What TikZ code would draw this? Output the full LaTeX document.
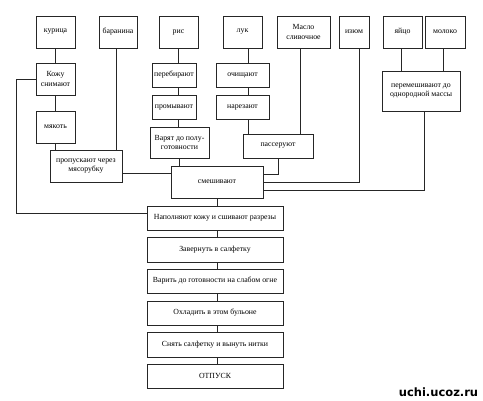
\documentclass[tikz,border=0pt]{standalone}
\usepackage{fontspec}
\setmainfont{Liberation Serif}
\newfontfamily\wmfont{DejaVu Sans}
\begin{document}
\begin{tikzpicture}[x=1pt,y=-1pt,
  box/.style={draw=black!85, line width=0.8pt, fill=white, inner sep=1pt, align=center,
    font=\fontsize{7.8}{9.5}\selectfont},
  conn/.style={draw=black!85, line width=0.8pt}]
\useasboundingbox (0,0) rectangle (483,401);
% top row
\node[box, minimum width=39pt, minimum height=32pt] (kur) at (55.5,32) {курица};
\node[box, minimum width=38pt, minimum height=32pt] (bar) at (118,32) {баранина};
\node[box, minimum width=39pt, minimum height=32pt] (ris) at (178.5,32) {рис};
\node[box, minimum width=39pt, minimum height=32pt] (luk) at (242.5,32) {лук};
\node[box, minimum width=53pt, minimum height=32pt] (maslo) at (303.5,32) {Масло\\сливочное};
\node[box, minimum width=30pt, minimum height=32pt] (izum) at (354,32) {изюм};
\node[box, minimum width=39pt, minimum height=32pt] (yajco) at (402.5,32) {яйцо};
\node[box, minimum width=40pt, minimum height=32pt] (moloko) at (445,32) {молоко};
% left branch
\node[box, minimum width=39pt, minimum height=32pt] (kozha) at (55.5,79) {Кожу\\снимают};
\node[box, minimum width=39pt, minimum height=32pt] (myak) at (55.5,127) {мякоть};
\node[box, minimum width=72pt, minimum height=32pt] (prop) at (86,166) {пропускают через\\мясорубку};
% rice branch
\node[box, minimum width=44pt, minimum height=24pt] (pereb) at (174,75) {перебирают};
\node[box, minimum width=44pt, minimum height=24pt] (promyv) at (174,107) {промывают};
\node[box, minimum width=59pt, minimum height=31pt] (varyat) at (179.5,142.5) {Варят до полу-\\готовности};
% onion branch
\node[box, minimum width=53pt, minimum height=24pt] (ochish) at (242.5,75) {очищают};
\node[box, minimum width=53pt, minimum height=24pt] (narez) at (242.5,107) {нарезают};
\node[box, minimum width=70pt, minimum height=24pt] (passer) at (278,146) {пассеруют};
% egg/milk
\node[box, minimum width=78pt, minimum height=40pt] (peremesh) at (421,91) {перемешивают до\\однородной массы};
% mixing
\node[box, minimum width=92pt, minimum height=32pt] (smesh) at (217,182) {смешивают};
% chain
\node[box, minimum width=136pt, minimum height=24pt] (nap) at (215,218) {Наполняют кожу и сшивают разрезы};
\node[box, minimum width=136pt, minimum height=25pt] (zav) at (215,249.5) {Завернуть в салфетку};
\node[box, minimum width=136pt, minimum height=24pt] (var2) at (215,281) {Варить до готовности на слабом огне};
\node[box, minimum width=136pt, minimum height=24pt] (ohl) at (215,313) {Охладить в этом бульоне};
\node[box, minimum width=136pt, minimum height=25pt] (snyat) at (215,344.5) {Снять салфетку и вынуть нитки};
\node[box, minimum width=136pt, minimum height=24pt] (otpusk) at (215,376) {ОТПУСК};
% connectors: chicken
\draw[conn] (kur.south) -- (kozha.north);
\draw[conn] (kozha.south) -- (myak.north);
\draw[conn] (myak.south) -- (myak.south |- prop.north);
\draw[conn] (kozha.west) -- ++(-19,0) |- ([yshift=5pt]nap.west);
% lamb
\draw[conn] ([xshift=-2pt]bar.south) -- ([xshift=-2pt]bar.south |- prop.north);
\draw[conn] ([yshift=-7pt]prop.east) -- ([yshift=-7pt]prop.east -| smesh.west);
% rice
\draw[conn] (ris.south) -- (ris.south |- pereb.north);
\draw[conn] (ris.south |- pereb.south) -- (ris.south |- promyv.north);
\draw[conn] (ris.south |- promyv.south) -- (ris.south |- varyat.north);
\draw[conn] (varyat.south) -- (varyat.south |- smesh.north);
% onion
\draw[conn] ([xshift=5.5pt]luk.south) -- ([xshift=5.5pt]luk.south |- ochish.north);
\draw[conn] ([xshift=5.5pt]luk.south |- ochish.south) -- ([xshift=5.5pt]luk.south |- narez.north);
\draw[conn] ([xshift=5.5pt]luk.south |- narez.south) -- ([xshift=5.5pt]luk.south |- passer.north);
\draw[conn] ([xshift=-3.5pt]maslo.south) -- ([xshift=-3.5pt]maslo.south |- passer.north);
\draw[conn] (passer.south) |- ([yshift=8pt]smesh.east);
% raisins
\draw[conn] ([xshift=5pt]izum.south) |- (smesh.east);
% egg, milk
\draw[conn] ([xshift=-1.5pt]yajco.south) -- ([xshift=-1.5pt]yajco.south |- peremesh.north);
\draw[conn] ([xshift=-2pt]moloko.south) -- ([xshift=-2pt]moloko.south |- peremesh.north);
\draw[conn] ([xshift=3pt]peremesh.south) |- ([yshift=-8pt]smesh.east);
% chain
\draw[conn] (smesh.south) -- (smesh.south |- nap.north);
\draw[conn] ([xshift=2pt]nap.south) -- ([xshift=2pt]zav.north);
\draw[conn] ([xshift=2pt]zav.south) -- ([xshift=2pt]var2.north);
\draw[conn] ([xshift=2pt]var2.south) -- ([xshift=2pt]ohl.north);
\draw[conn] ([xshift=2pt]ohl.south) -- ([xshift=2pt]snyat.north);
\draw[conn] ([xshift=2pt]snyat.south) -- ([xshift=2pt]otpusk.north);
% watermark
\node[font=\wmfont\bfseries\fontsize{11.5}{12}\selectfont, inner sep=0pt] (wm) at (438.5,392.5) {uchi.ucoz.ru};
\end{tikzpicture}
\end{document}
